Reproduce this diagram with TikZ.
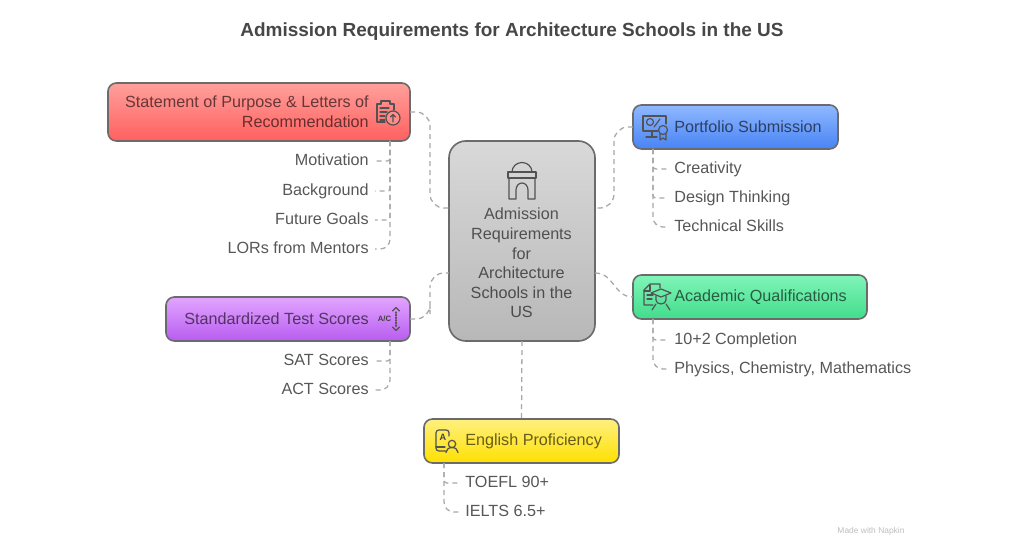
\documentclass[tikz,border=0pt]{standalone}
\usepackage{xcolor}
\usepackage{fontspec}
\setmainfont{Liberation Sans}
\usepackage{tikz}
\definecolor{redtop}{RGB}{255,160,155}
\definecolor{redbot}{RGB}{255,96,96}
\definecolor{bluetop}{RGB}{143,184,255}
\definecolor{bluebot}{RGB}{72,132,245}
\definecolor{greentop}{RGB}{128,245,184}
\definecolor{greenbot}{RGB}{66,220,140}
\definecolor{purpletop}{RGB}{226,165,255}
\definecolor{purplebot}{RGB}{184,92,240}
\definecolor{yellowtop}{RGB}{255,240,128}
\definecolor{yellowbot}{RGB}{255,224,0}
\tikzset{
  box/.style={draw=black!58,line width=1.15pt,rectangle,rounded corners=6pt,inner sep=0pt,outer sep=0pt},
  boxtext/.style={inner sep=0pt,font=\fontsize{11.5pt}{13.9pt}\selectfont,text=black,text opacity=.6},
  item/.style={inner xsep=4.3pt,inner ysep=0pt,text height=8.3pt,text depth=2.2pt,yshift=-.7pt,font=\fontsize{11.5pt}{14pt}\selectfont,text=black!66},
  link/.style={draw=black!34,line width=.9pt,dash pattern=on 3.6pt off 2.8pt,rounded corners=7pt},
  mainlink/.style={link,rounded corners=10pt},
  twig/.style={link,rounded corners=2pt},
  icon/.style={draw=black!68,line width=.85pt,line cap=round,line join=round,fill=none},
}
\begin{document}
\begin{tikzpicture}[x=.025cm,y=-.025cm]
\useasboundingbox[fill=white] (0,0) rectangle (1024,536);
\node[font=\bfseries\fontsize{13.5pt}{16pt}\selectfont,text=black!72,inner sep=0pt] (title) at (512,32) {Admission Requirements for Architecture Schools in the US};
\node[font=\fontsize{6pt}{7pt}\selectfont,text=black!25,inner sep=0pt,anchor=south] (made) at (871,535.5) {Made with Napkin};
% boxes
\node[box,top color=redtop,bottom color=redbot,minimum width=7.55cm,minimum height=1.45cm] (sop) at (259,112) {};
\node[box,rounded corners=12pt,top color=black!15,bottom color=black!28,minimum width=3.65cm,minimum height=5cm] (main) at (522,241) {};
\node[box,top color=bluetop,bottom color=bluebot,minimum width=5.125cm,minimum height=1.1cm] (portfolio) at (735.5,127) {};
\node[box,top color=greentop,bottom color=greenbot,minimum width=5.85cm,minimum height=1.1cm] (academic) at (750,297) {};
\node[box,top color=purpletop,bottom color=purplebot,minimum width=6.1cm,minimum height=1.1cm] (test) at (288,319) {};
\node[box,top color=yellowtop,bottom color=yellowbot,minimum width=4.875cm,minimum height=1.1cm] (english) at (521.5,441) {};
% connector ends
\coordinate (mainLa) at (main.west |- 0,208);
\coordinate (mainLb) at (main.west |- 0,273);
\coordinate (mainRa) at (main.east |- 0,208);
\coordinate (mainRb) at (main.east |- 0,273);
\coordinate (bendA) at (430,160);
\coordinate (bendB) at (430,300);
\coordinate (bendC) at (614,160);
\coordinate (trunkA) at (390,141);
\coordinate (trunkB) at (390,341);
\coordinate (trunkC) at (653,149);
\coordinate (trunkD) at (653,319);
\coordinate (trunkE) at (444,463);
\draw[mainlink] (sop.east) -| (bendA) |- (mainLa);
\draw[mainlink] (test.east) -| (bendB) |- (mainLb);
\draw[mainlink] (portfolio.west) -| (bendC) |- (mainRa);
\draw[link,rounded corners=0pt] (mainRb) to[out=0,in=180,looseness=1.1] (academic.west);
\draw[link] (main.south) -- (english.north);
% box texts
\node[boxtext,align=right,anchor=east] (sopText) at (369,112) {Statement of Purpose \& Letters of\\Recommendation};
\node[boxtext,align=center] (mainText) at (521.5,263) {Admission\\Requirements\\for\\Architecture\\Schools in the\\US};
\node[boxtext,anchor=west] (portfolioText) at (674,127) {Portfolio Submission};
\node[boxtext,anchor=west] (academicText) at (674,297) {Academic Qualifications};
\node[boxtext,anchor=east] (testText) at (369,319) {Standardized Test Scores};
\node[boxtext,anchor=west] (englishText) at (465,441) {English Proficiency};
% items
\node[item,anchor=east] (motivation) at (375,160) {Motivation};
\node[item,anchor=east] (background) at (375,190) {Background};
\node[item,anchor=east] (goals) at (375,219) {Future Goals};
\node[item,anchor=east] (lors) at (375,248) {LORs from Mentors};
\node[item,anchor=east] (sat) at (375,360) {SAT Scores};
\node[item,anchor=east] (act) at (375,389) {ACT Scores};
\node[item,anchor=west] (creativity) at (668,168) {Creativity};
\node[item,anchor=west] (design) at (668,197) {Design Thinking};
\node[item,anchor=west] (skills) at (668,226) {Technical Skills};
\node[item,anchor=west] (completion) at (668,339) {10+2 Completion};
\node[item,anchor=west] (subjects) at (668,368) {Physics, Chemistry, Mathematics};
\node[item,anchor=west] (toefl) at (459,482) {TOEFL 90+};
\node[item,anchor=west] (ielts) at (459,511) {IELTS 6.5+};
% item connectors
\draw[twig] (trunkA) |- (motivation.east);
\draw[twig] (trunkA) |- (background.east);
\draw[twig] (trunkA) |- (goals.east);
\draw[link] (trunkA) |- (lors.east);
\draw[twig] (trunkB) |- (sat.east);
\draw[link] (trunkB) |- (act.east);
\draw[twig] (trunkC) |- (creativity.west);
\draw[twig] (trunkC) |- (design.west);
\draw[link] (trunkC) |- (skills.west);
\draw[twig] (trunkD) |- (completion.west);
\draw[link] (trunkD) |- (subjects.west);
\draw[twig] (trunkE) |- (toefl.west);
\draw[link] (trunkE) |- (ielts.west);
% gate icon
\draw[icon] (512,172) arc (180:360:10 and 9.5);
\draw[icon] (508,172) rectangle (536,178);
\draw[icon] (509,178) -- (509,199) -- (516,199) -- (516,190) arc (180:360:6 and 7) -- (528,199) -- (535,199) -- (535,178);
% clipboard icon
\draw[icon] (385,122) -- (377,122) -- (377,104) -- (381,104) -- (381,101) -- (390,101) -- (390,104) -- (394,104) -- (394,110);
\draw[icon] (380,108) -- (389,108) (380,112) -- (387,112) (380,116) -- (385,116) (380,120) -- (385,120);
\draw[icon,fill=redtop!70!redbot] (393,118) circle (7);
\draw[icon] (393,122) -- (393,115) (390.5,117) -- (393,114.5) -- (395.5,117);
% test icon
\node[font=\bfseries\fontsize{5.5pt}{6pt}\selectfont,text=black!75,inner sep=0pt] (testIcon) at (384.5,319) {A/C};
\draw[icon,densely dotted] (396,312) -- (396,327);
\draw[icon] (392.5,311) -- (396,307.5) -- (399.5,311) (392.5,327) -- (396,330.5) -- (399.5,327);
% monitor icon
\draw[icon] (658,131) -- (643,131) -- (643,116) -- (666,116) -- (666,124);
\draw[icon] (652,131) -- (652,137) (646,137) -- (657,137);
\draw[icon] (650,122) circle (3.5);
\draw[icon] (654,127) -- (660,119);
\draw[icon] (663,130) circle (4.5);
\draw[icon] (660,134) -- (660,140) -- (663,138) -- (666,140) -- (666,134);
% academic icon
\draw[icon] (653,305) -- (644,305) -- (644,290) -- (650,284) -- (660,284) -- (660,288);
\draw[icon] (644,291) -- (650,291) -- (650,285);
\draw[icon] (647,295) -- (653,295) (647,299) -- (652,299);
\draw[icon] (651,293) -- (661,289) -- (671,293) -- (661,297) -- cycle;
\draw[icon] (656,296) -- (656,300) arc (180:0:5 and 4) -- (666,296);
\draw[icon] (652,310) -- (656,304) (670,310) -- (666,304);
% book icon
\draw[icon,rounded corners=2pt] (446,451) -- (436,451) -- (436,430) -- (449,430) -- (449,436);
\draw[icon] (436,447) -- (445,447);
\node[font=\bfseries\fontsize{6.5pt}{7pt}\selectfont,text=black!75,inner sep=0pt] (bookIcon) at (443,437.5) {A};
\draw[icon] (452,444) circle (3.7);
\draw[icon] (446,452.5) arc (180:360:6 and 5);
\end{tikzpicture}
\end{document}
